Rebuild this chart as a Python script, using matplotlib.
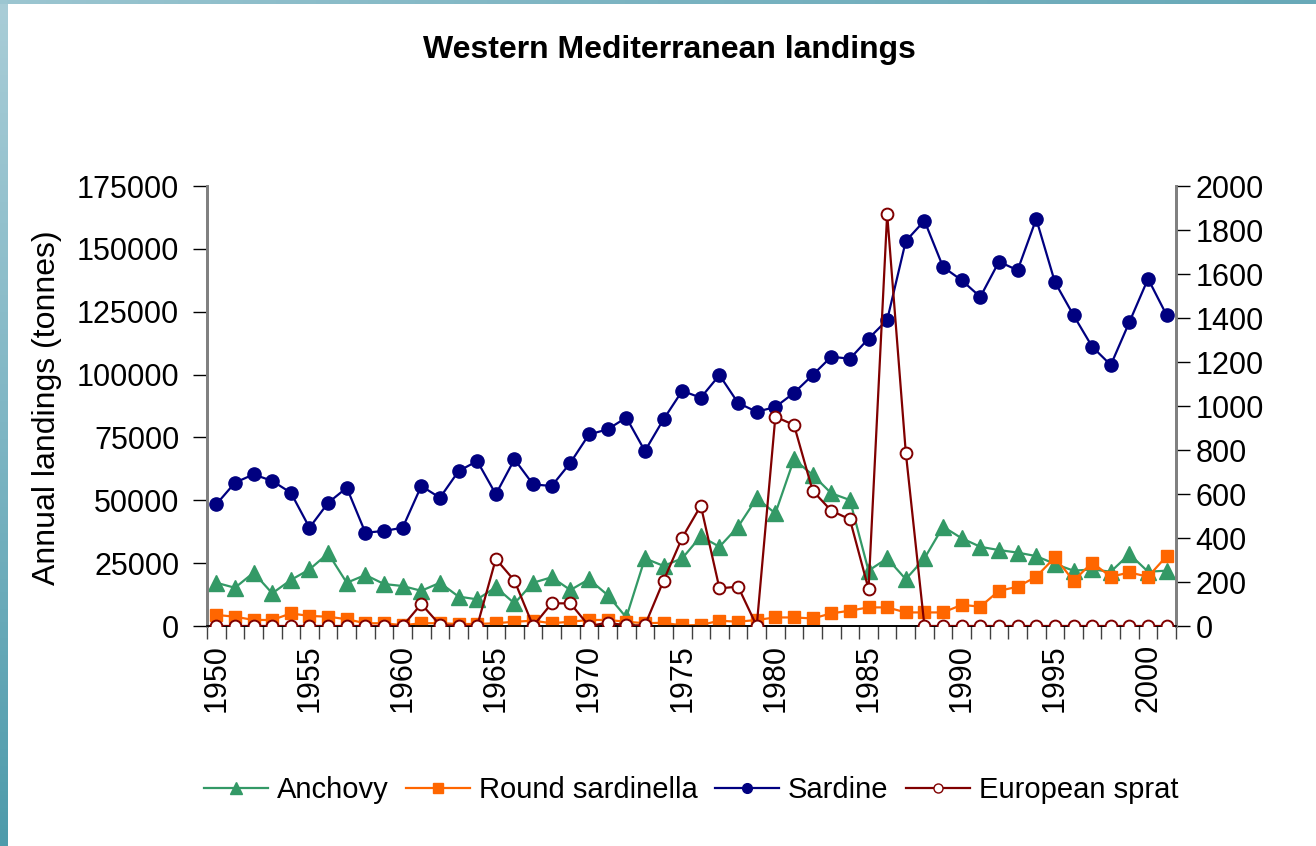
import numpy as np
import matplotlib
matplotlib.use("Agg")
import matplotlib.pyplot as plt
from matplotlib.lines import Line2D

plt.rcParams['font.family'] = ['Liberation Sans', 'DejaVu Sans']

years = list(range(1950, 2002))

# annual landings, tonnes (left axis)
anchovy = [17200, 15200, 21200, 13000, 18300, 22500, 28900, 17200, 20300, 16700,
           15900, 14000, 17200, 11700, 10600, 15400, 9000, 17200, 19400, 14300,
           18600, 12300, 3400, 26900, 23900, 26900, 35700, 31500, 39500, 50800,
           44800, 66300, 60100, 52800, 50100, 22000, 26900, 18600, 26900, 39500,
           34900, 31500, 30200, 29200, 27800, 24700, 22000, 22500, 21600, 28600,
           21600, 22000]
round_sardinella = [4400, 3700, 2400, 2400, 5000, 4000, 3700, 2700, 1100, 1100,
                    300, 1100, 1100, 800, 800, 1100, 1700, 2100, 1100, 1700,
                    2400, 2400, 1700, 1100, 1300, 200, 400, 2100, 1700, 2400,
                    3400, 3400, 3000, 5000, 6100, 7400, 7400, 5400, 5400, 5400,
                    8400, 7700, 14000, 15600, 19600, 27300, 18000, 25200, 19600, 21300,
                    19600, 27800]
sardine = [48400, 57000, 60300, 57700, 53000, 39100, 49000, 55000, 37100, 37800,
           39100, 55700, 51000, 61600, 65600, 52400, 66300, 56300, 55700, 64900,
           76200, 78200, 82900, 69600, 82200, 93500, 90800, 99800, 88700, 85200,
           87100, 92700, 99800, 107100, 106300, 114300, 121700, 153100, 161200, 142800,
           137500, 130900, 144900, 141500, 161900, 136800, 123600, 111100, 103800, 120900,
           138100, 123600]
# European sprat, right axis
european_sprat = [0, 0, 0, 0, 0, 0, 0, 0, 0, 0,
                  0, 100, 5, 0, 0, 305, 206, 0, 103, 103,
                  0, 15, 3, 3, 206, 401, 547, 171, 179, 0,
                  951, 914, 615, 524, 485, 168, 1873, 788, 0, 0,
                  0, 0, 0, 0, 0, 0, 0, 0, 0, 0,
                  0, 0]

label_years = list(range(1950, 2001, 5))

c_anch = '#339966'
c_rsar = '#FF6600'
c_sard = '#000080'
c_spr = '#800000'

fig = plt.figure(figsize=(13.16, 8.46), dpi=100)

# teal edge strips
left = fig.add_axes([0, 0, 8 / 1316, 1])
left.imshow(np.linspace(0, 1, 200).reshape(-1, 1), aspect='auto',
            cmap=matplotlib.colors.LinearSegmentedColormap.from_list(
                'l', ['#A9CDD7', '#7FB6C4', '#4E9BAB']))
left.axis('off')
top = fig.add_axes([0, 1 - 4 / 846, 1, 4 / 846])
top.imshow(np.linspace(0, 1, 200).reshape(1, -1), aspect='auto',
           cmap=matplotlib.colors.LinearSegmentedColormap.from_list(
               't', ['#9CC6D1', '#7AB3C1', '#68A9B8']))
top.axis('off')

ax = fig.add_axes([207 / 1316, 1 - 626 / 846, (1176 - 207) / 1316, 440 / 846])
ax2 = ax.twinx()

ax.plot(years, anchovy, color=c_anch, lw=1.6, marker='^', ms=11, mec=c_anch, zorder=3)
ax.plot(years, round_sardinella, color=c_rsar, lw=1.6, marker='s', ms=9, mec=c_rsar, zorder=3)
ax.plot(years, sardine, color=c_sard, lw=1.6, marker='o', ms=9.5, mec=c_sard, zorder=3)
ax2.plot(years, european_sprat, color=c_spr, lw=1.6, marker='o', ms=8.5, mfc='white',
         mec=c_spr, mew=1.4, zorder=3)

ax.set_xlim(1949.5, 2001.5)
ax.set_ylim(0, 175000)
ax2.set_ylim(0, 2000)
ax.set_yticks(range(0, 175001, 25000))
ax2.set_yticks(range(0, 2001, 200))

ax.set_xticks(np.arange(1949.5, 2002, 1))
ax.set_xticklabels([])
ax.set_xticks(label_years, minor=True)
ax.set_xticklabels([str(y) for y in label_years], minor=True, rotation=90)
ax.tick_params(axis='x', which='major', length=9, width=1, color='#404040')
ax.tick_params(axis='x', which='minor', length=0, pad=13, labelsize=22)
ax.tick_params(axis='y', length=10, width=1, labelsize=22, pad=10)
ax2.tick_params(axis='y', length=10, width=1, labelsize=22, pad=4)

for a in (ax, ax2):
    a.spines['top'].set_visible(False)
    a.spines['left'].set_color('#808080')
    a.spines['right'].set_color('#808080')
    a.spines['left'].set_linewidth(2)
    a.spines['right'].set_linewidth(2)
    a.spines['bottom'].set_color('black')
    a.spines['bottom'].set_linewidth(1.2)

fig.text(669 / 1316, 1 - 50 / 846, 'Western Mediterranean landings',
         ha='center', va='center', fontsize=23, fontweight='bold')
fig.text(47 / 1316, 1 - 408 / 846, 'Annual landings (tonnes)', rotation=90,
         ha='center', va='center', fontsize=23)

handles = [
    Line2D([], [], color=c_anch, lw=1.6, marker='^', ms=8, mec=c_anch),
    Line2D([], [], color=c_rsar, lw=1.6, marker='s', ms=7, mec=c_rsar),
    Line2D([], [], color=c_sard, lw=1.6, marker='o', ms=7, mec=c_sard),
    Line2D([], [], color=c_spr, lw=1.6, marker='o', ms=6.5, mfc='white', mec=c_spr),
]
fig.legend(handles, ['Anchovy', 'Round sardinella', 'Sardine', 'European sprat'],
           loc='center', bbox_to_anchor=(691 / 1316, 1 - 790 / 846), ncol=4,
           frameon=False, fontsize=21, handlelength=2.2, handletextpad=0.3,
           columnspacing=0.6)

fig.savefig('out.png', dpi=100)
